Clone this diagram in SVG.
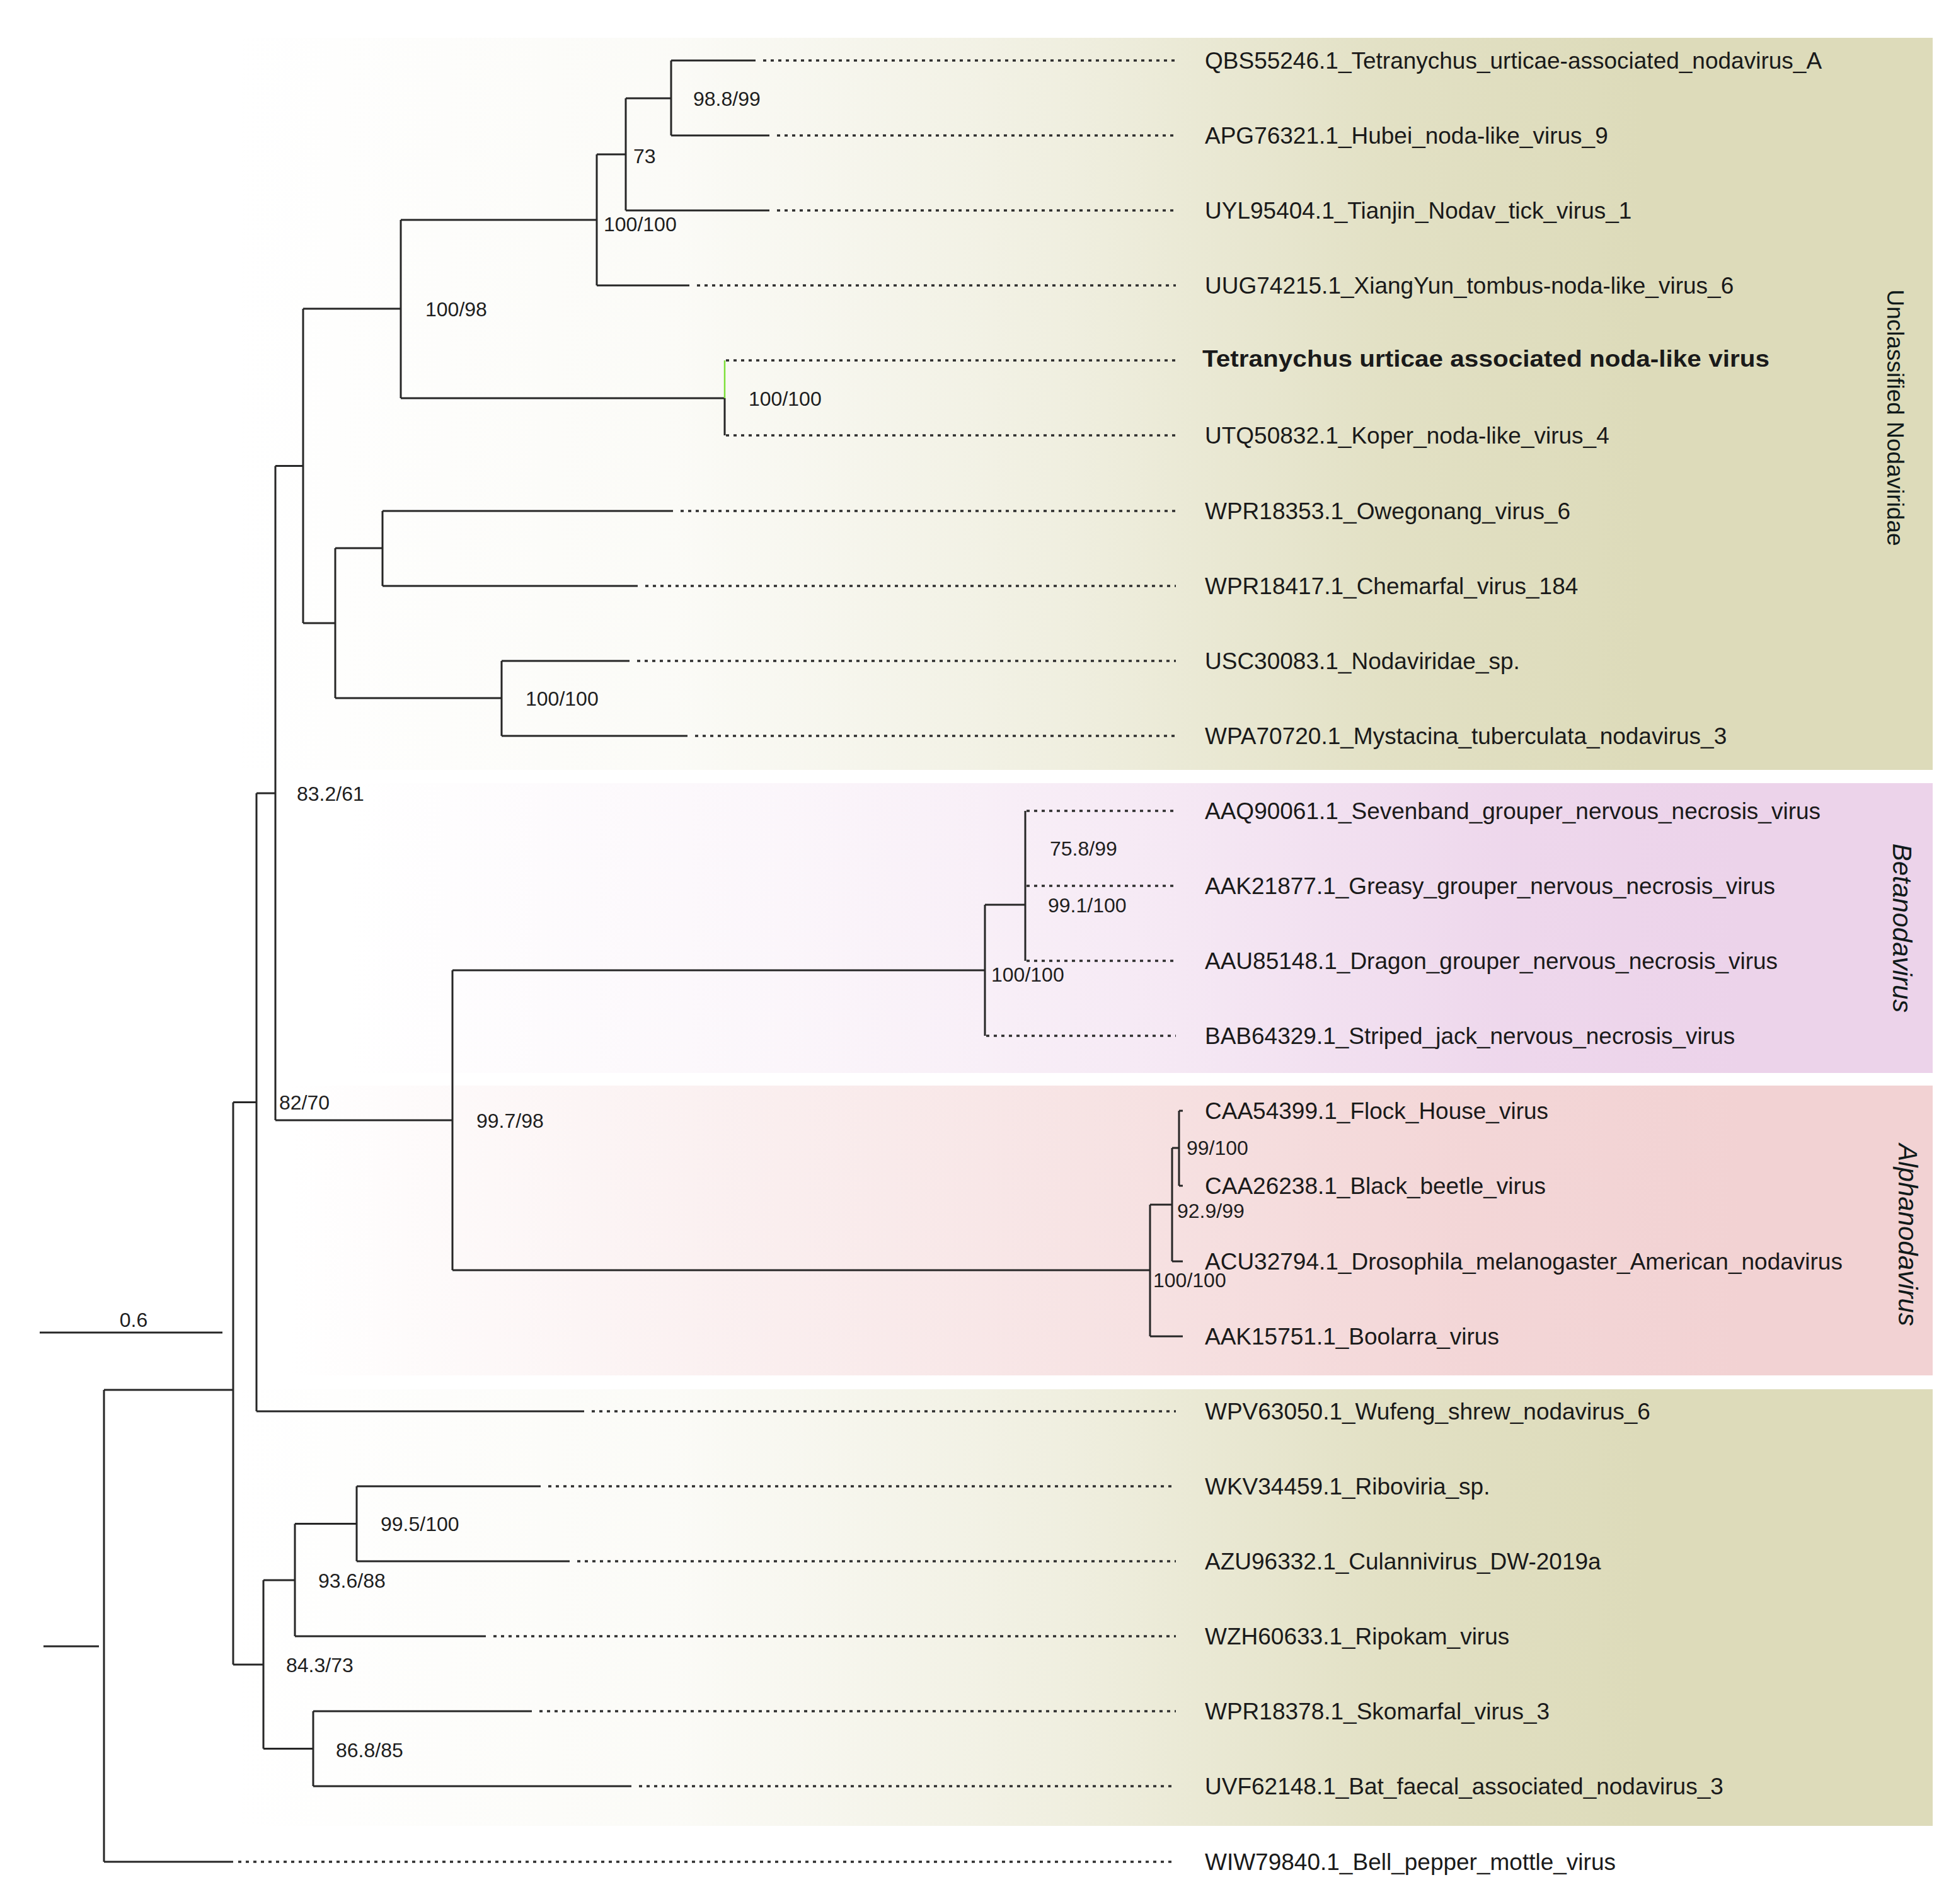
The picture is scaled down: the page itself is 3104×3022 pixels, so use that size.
<svg xmlns="http://www.w3.org/2000/svg" width="3104" height="3022" viewBox="0 0 3104 3022">
<defs>
<linearGradient id="gOlive" gradientUnits="userSpaceOnUse" x1="0" y1="0" x2="3067" y2="0">
<stop offset="0.12" stop-color="#dddbba" stop-opacity="0"/>
<stop offset="0.35" stop-color="#dddbba" stop-opacity="0.12"/>
<stop offset="0.55" stop-color="#dddbba" stop-opacity="0.45"/>
<stop offset="0.72" stop-color="#dddbba" stop-opacity="0.85"/>
<stop offset="0.85" stop-color="#dddbba" stop-opacity="1"/>
</linearGradient>
<linearGradient id="gPurple" gradientUnits="userSpaceOnUse" x1="0" y1="0" x2="3067" y2="0">
<stop offset="0.18" stop-color="#ecd3ea" stop-opacity="0"/>
<stop offset="0.4" stop-color="#ecd3ea" stop-opacity="0.2"/>
<stop offset="0.6" stop-color="#ecd3ea" stop-opacity="0.5"/>
<stop offset="0.78" stop-color="#ecd3ea" stop-opacity="0.9"/>
<stop offset="0.9" stop-color="#ecd3ea" stop-opacity="1"/>
</linearGradient>
<linearGradient id="gPink" gradientUnits="userSpaceOnUse" x1="0" y1="0" x2="3067" y2="0">
<stop offset="0.15" stop-color="#f2d2d3" stop-opacity="0"/>
<stop offset="0.35" stop-color="#f2d2d3" stop-opacity="0.3"/>
<stop offset="0.55" stop-color="#f2d2d3" stop-opacity="0.6"/>
<stop offset="0.75" stop-color="#f2d2d3" stop-opacity="0.9"/>
<stop offset="0.9" stop-color="#f2d2d3" stop-opacity="1"/>
</linearGradient>
<style>
.br{fill:none;stroke:#262626;stroke-width:3}
.dot{fill:none;stroke:#2e2e2e;stroke-width:3.4;stroke-dasharray:5 7}
.leaf{font-family:"Liberation Sans",Arial,sans-serif;font-size:37px;fill:#1a1a1a}
.bs{font-family:"Liberation Sans",Arial,sans-serif;font-size:32px;fill:#1e1e1e}
.grp{font-family:"Liberation Sans",Arial,sans-serif;fill:#101a1a}
</style>
</defs>
<rect x="0" y="0" width="3104" height="3022" fill="#ffffff"/>
<g id="bands">
<rect x="0" y="60" width="3067" height="1162" fill="url(#gOlive)"/>
<rect x="0" y="1243" width="3067" height="460" fill="url(#gPurple)"/>
<rect x="0" y="1723" width="3067" height="460" fill="url(#gPink)"/>
<rect x="0" y="2205" width="3067" height="693" fill="url(#gOlive)"/>
</g>
<g id="group-labels">
<text class="grp" font-size="37" text-anchor="middle" transform="translate(2995,663) rotate(90)">Unclassified Nodaviridae</text>
<text class="grp" font-size="42" font-style="italic" text-anchor="middle" transform="translate(3004,1473) rotate(90)">Betanodavirus</text>
<text class="grp" font-size="42" font-style="italic" text-anchor="middle" transform="translate(3013,1960) rotate(90)">Alphanodavirus</text>
</g>
<g id="connectors">
<path class="br" d="M69 2613H157"/>
<path class="br" d="M165 2206V2955M165 2206H370M370 1749.5V2642M370 1749.5H407M407 1259V2240M407 1259H437M437 739.5V1778M437 739.5H481M481 490V989M481 490H636M636 349V632M636 349H947M947 245V453M947 245H993M993 156V334M993 156H1065M1065 96V215"/>
<path class="br" d="M1065 96H1199M1065 215H1221M993 334H1221M947 453H1094M636 632H1150M1150 632V691"/>
<path fill="none" stroke="#7ee03a" stroke-width="2.5" d="M1150 572V632"/>
<path class="br" d="M481 989H532M532 870V1108M532 870H607M607 811V930M607 811H1068M607 930H1012M532 1108H796M796 1049V1168M796 1049H999M796 1168H1091"/>
<path class="br" d="M437 1778H718M718 1540V2016M718 1540H1563M1563 1436V1644M1563 1436H1627M1627 1287V1525"/>
<path class="br" d="M718 2016H1825M1825 1912V2121M1825 2121H1877M1825 1912H1860M1860 1822V2002M1860 2002H1877M1860 1822H1871M1871 1763V1882M1871 1763H1877M1871 1882H1877"/>
<path class="br" d="M407 2240H927M370 2642H418M418 2508V2775.5M418 2508H468M468 2418.5V2597M468 2597H771M468 2418.5H566M566 2359V2478M566 2359H858M566 2478H904M418 2775.5H497M497 2716V2835M497 2716H844M497 2835H1002M165 2955H370"/>
<path class="dot" d="M1211 96H1866M1233 215H1866M1233 334H1866M1106 453H1866M1152 572H1866M1152 691H1866M1080 811H1866M1024 930H1866M1011 1049H1866M1103 1168H1866M1629 1287H1866M1629 1406H1866M1629 1525H1866M1565 1644H1866M939 2240H1866M870 2359H1866M916 2478H1866M783 2597H1866M856 2716H1866M1014 2835H1866M378 2955H1866"/>
</g>
<g id="scale-bar">
<path class="br" d="M63 2115H353"/>
<text class="bs" font-size="36" x="212" y="2106" text-anchor="middle">0.6</text>
</g>
<g id="support-values">
<text class="bs" x="1100" y="168">98.8/99</text>
<text class="bs" x="1005" y="259">73</text>
<text class="bs" x="958" y="367">100/100</text>
<text class="bs" x="675" y="502">100/98</text>
<text class="bs" x="1188" y="644">100/100</text>
<text class="bs" x="834" y="1120">100/100</text>
<text class="bs" x="471" y="1271">83.2/61</text>
<text class="bs" x="443" y="1761">82/70</text>
<text class="bs" x="756" y="1790">99.7/98</text>
<text class="bs" x="1666" y="1358">75.8/99</text>
<text class="bs" x="1663" y="1448">99.1/100</text>
<text class="bs" x="1573" y="1558">100/100</text>
<text class="bs" x="1883" y="1833">99/100</text>
<text class="bs" x="1868" y="1933">92.9/99</text>
<text class="bs" x="1830" y="2043">100/100</text>
<text class="bs" x="604" y="2430">99.5/100</text>
<text class="bs" x="505" y="2520">93.6/88</text>
<text class="bs" x="454" y="2654">84.3/73</text>
<text class="bs" x="533" y="2789">86.8/85</text>
</g>
<g id="leaf-01"><text class="leaf" x="1912" y="109">QBS55246.1_Tetranychus_urticae-associated_nodavirus_A</text></g>
<g id="leaf-02"><text class="leaf" x="1912" y="228">APG76321.1_Hubei_noda-like_virus_9</text></g>
<g id="leaf-03"><text class="leaf" x="1912" y="347">UYL95404.1_Tianjin_Nodav_tick_virus_1</text></g>
<g id="leaf-04"><text class="leaf" x="1912" y="466">UUG74215.1_XiangYun_tombus-noda-like_virus_6</text></g>
<g id="leaf-05"><text class="leaf" x="1908" y="582" font-size="42" font-weight="bold" textLength="900" lengthAdjust="spacingAndGlyphs">Tetranychus urticae associated noda-like virus</text></g>
<g id="leaf-06"><text class="leaf" x="1912" y="704">UTQ50832.1_Koper_noda-like_virus_4</text></g>
<g id="leaf-07"><text class="leaf" x="1912" y="824">WPR18353.1_Owegonang_virus_6</text></g>
<g id="leaf-08"><text class="leaf" x="1912" y="943">WPR18417.1_Chemarfal_virus_184</text></g>
<g id="leaf-09"><text class="leaf" x="1912" y="1062">USC30083.1_Nodaviridae_sp.</text></g>
<g id="leaf-10"><text class="leaf" x="1912" y="1181">WPA70720.1_Mystacina_tuberculata_nodavirus_3</text></g>
<g id="leaf-11"><text class="leaf" x="1912" y="1300">AAQ90061.1_Sevenband_grouper_nervous_necrosis_virus</text></g>
<g id="leaf-12"><text class="leaf" x="1912" y="1419">AAK21877.1_Greasy_grouper_nervous_necrosis_virus</text></g>
<g id="leaf-13"><text class="leaf" x="1912" y="1538">AAU85148.1_Dragon_grouper_nervous_necrosis_virus</text></g>
<g id="leaf-14"><text class="leaf" x="1912" y="1657">BAB64329.1_Striped_jack_nervous_necrosis_virus</text></g>
<g id="leaf-15"><text class="leaf" x="1912" y="1776">CAA54399.1_Flock_House_virus</text></g>
<g id="leaf-16"><text class="leaf" x="1912" y="1895">CAA26238.1_Black_beetle_virus</text></g>
<g id="leaf-17"><text class="leaf" x="1912" y="2015">ACU32794.1_Drosophila_melanogaster_American_nodavirus</text></g>
<g id="leaf-18"><text class="leaf" x="1912" y="2134">AAK15751.1_Boolarra_virus</text></g>
<g id="leaf-19"><text class="leaf" x="1912" y="2253">WPV63050.1_Wufeng_shrew_nodavirus_6</text></g>
<g id="leaf-20"><text class="leaf" x="1912" y="2372">WKV34459.1_Riboviria_sp.</text></g>
<g id="leaf-21"><text class="leaf" x="1912" y="2491">AZU96332.1_Culannivirus_DW-2019a</text></g>
<g id="leaf-22"><text class="leaf" x="1912" y="2610">WZH60633.1_Ripokam_virus</text></g>
<g id="leaf-23"><text class="leaf" x="1912" y="2729">WPR18378.1_Skomarfal_virus_3</text></g>
<g id="leaf-24"><text class="leaf" x="1912" y="2848">UVF62148.1_Bat_faecal_associated_nodavirus_3</text></g>
<g id="leaf-25"><text class="leaf" x="1912" y="2968">WIW79840.1_Bell_pepper_mottle_virus</text></g>
</svg>
